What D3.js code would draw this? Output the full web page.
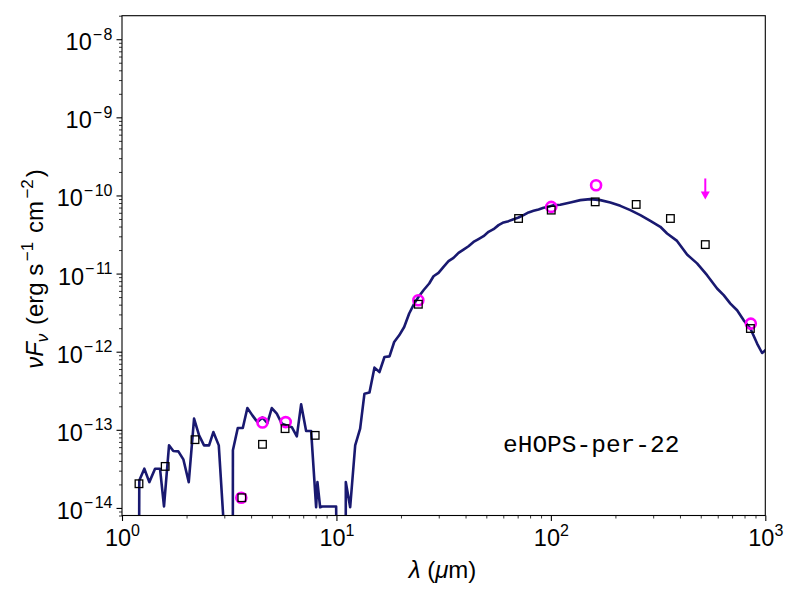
<!DOCTYPE html>
<html>
<head>
<meta charset="utf-8">
<script src="https://cdn.jsdelivr.net/npm/d3@7"></script>
<style>
  body { margin: 0; background: #fff; }
</style>
</head>
<body>
<div id="chart"></div>
<script>
// SED model: wavelength (micron) and nuFnu (erg s^-1 cm^-2)
const modelWave = [1.20, 1.204, 1.271, 1.341, 1.426, 1.504, 1.570, 1.657, 1.735, 1.831, 1.932, 2.048,
  2.168, 2.288, 2.413, 2.547, 2.667, 2.827, 3.107, 3.286, 3.29, 3.467, 3.659, 3.843, 4.056, 4.279,
  4.516, 4.764, 4.995, 5.271, 5.563, 5.869, 6.193, 6.536, 6.844, 7.222, 7.621, 8.04, 8.155, 8.394,
  8.577, 9.968, 10.05, 11.04, 11.06, 11.59, 12.23, 12.90, 13.51, 14.26, 15.04, 15.87, 16.75, 17.68,
  18.59, 19.62, 20.70, 21.84, 23.05, 24.13, 25.47, 27.08, 28.36, 29.92, 31.58, 33.32, 35.16, 37.10,
  39.14, 41.30, 43.58, 45.98, 48.53, 51.21, 54.03, 57.02, 60.16, 63.48, 66.99, 70.68, 74.58, 78.70,
  83.05, 87.62, 92.47, 97.57, 102.9, 110.6, 123.2, 137.2, 152.7, 170.1, 189.3, 210.8, 234.7, 261.4,
  291.0, 323.9, 348.3, 387.6, 431.6, 480.6, 535.1, 595.8, 639.6, 687.4, 738.6, 793.0, 852.0, 915.8,
  966.2, 1000, 1050];
const modelFlux = [1e-15, 2.25e-14, 3.18e-14, 2.14e-14, 3.18e-14, 3.18e-14, 1.045e-14, 6.32e-14,
  5.35e-14, 5.30e-14, 4.19e-14, 2.14e-14, 1.39e-13, 8.49e-14, 6.32e-14, 6.32e-14, 9.35e-14, 6.32e-14,
  1e-15, 1e-15, 5.46e-14, 1.054e-13, 1.054e-13, 1.90e-13, 1.53e-13, 1.256e-13, 1.44e-13, 1.22e-13,
  1.90e-13, 1.61e-13, 1.20e-13, 1.14e-13, 1.08e-13, 8.24e-14, 2.12e-13, 9.64e-14, 9.64e-14, 1.02e-14,
  2.14e-14, 1.02e-14, 1.045e-14, 1.045e-14, 1e-15, 1e-15, 2.14e-14, 1.02e-14, 6.3e-14, 1.035e-13,
  2.9e-13, 3.0e-13, 6.25e-13, 5.49e-13, 8.55e-13, 8.7e-13, 1.33e-12, 1.62e-12, 2.07e-12, 3.08e-12,
  4.13e-12, 5.02e-12, 6.12e-12, 7.46e-12, 9.25e-12, 1.02e-11, 1.22e-11, 1.44e-11, 1.59e-11, 1.84e-11,
  2.03e-11, 2.24e-11, 2.54e-11, 2.76e-11, 3.01e-11, 3.42e-11, 3.70e-11, 4.17e-11, 4.51e-11, 4.69e-11,
  4.97e-11, 5.22e-11, 5.59e-11, 6.06e-11, 6.35e-11, 6.62e-11, 6.94e-11, 7.15e-11, 7.52e-11, 7.6e-11,
  8.13e-11, 8.71e-11, 8.97e-11, 8.71e-11, 8.13e-11, 7.36e-11, 6.49e-11, 5.60e-11, 4.73e-11, 3.97e-11,
  3.26e-11, 2.62e-11, 1.75e-11, 1.35e-11, 9.53e-12, 6.44e-12, 5.29e-12, 4.13e-12, 3.39e-12, 2.52e-12,
  1.98e-12, 1.27e-12, 9.62e-13, 1.04e-12, 1.2e-12];

// model photometry (open squares)
const photWave = [1.2, 1.59, 2.19, 3.62, 4.52, 5.76, 7.96, 24.1, 70.7, 100.4, 161, 250, 361, 525, 852];
const photFlux = [2.04e-14, 3.40e-14, 7.48e-14, 1.35e-14, 6.52e-14, 1.035e-13, 8.49e-14, 4.05e-12,
  5.07e-11, 6.49e-11, 8.28e-11, 7.67e-11, 5.07e-11, 2.35e-11, 1.98e-12];

// observed fluxes (magenta circles)
const obsWave = [3.6, 4.52, 5.8, 24.1, 100.4, 162.5, 856];
const obsFlux = [1.35e-14, 1.24e-13, 1.256e-13, 4.56e-12, 7.14e-11, 1.35e-10, 2.29e-12];

// upper limit
const ulWave = [525];
const ulFlux = [1.65e-10];

const xTicks = [1, 10, 100, 1000];
const xExp = ["0", "1", "2", "3"];
const yTicks = [1e-14, 1e-13, 1e-12, 1e-11, 1e-10, 1e-9, 1e-8];
const yExp = ["14", "13", "12", "11", "10", "9", "8"];

const sourceName = "eHOPS-per-22";

const width = 800, height = 600,
      margin = {top: 15.7, right: 34.7, bottom: 84.5, left: 122};
const font = "Liberation Sans, Arial, Helvetica, sans-serif";

const svg = d3.select("#chart")
    .append("svg")
    .attr("width", width)
    .attr("height", height);

const x = d3.scaleLog()
    .domain([1, 1000])
    .range([margin.left, width - margin.right]);

const y = d3.scaleLog()
    .domain([8e-15, 2e-8])
    .range([height - margin.bottom, margin.top]);

// minor ticks 2..9 per decade inside the domain
function minorTicks(scale) {
    const [a, b] = scale.domain();
    const out = [];
    for (let k = Math.floor(Math.log10(a)); k <= Math.ceil(Math.log10(b)); k++) {
        for (let m = 2; m <= 9; m++) {
            const v = m * Math.pow(10, k);
            if (v >= a * 0.999 && v <= b * 1.001) out.push(v);
        }
    }
    return out;
}

svg.append("clipPath").attr("id", "plotclip")
  .append("rect")
    .attr("x", margin.left)
    .attr("y", margin.top)
    .attr("width", width - margin.left - margin.right)
    .attr("height", height - margin.top - margin.bottom);

// model curve
const model = modelWave.map((w, i) => [w, modelFlux[i]]);
const line = d3.line().x(d => x(d[0])).y(d => y(d[1]));

svg.append("path")
    .datum(model)
    .attr("clip-path", "url(#plotclip)")
    .attr("fill", "none")
    .attr("stroke", "#191970")
    .attr("stroke-width", 2.6)
    .attr("stroke-linejoin", "round")
    .attr("d", line);

// observed circles
svg.append("g")
  .selectAll("circle")
  .data(obsWave)
  .join("circle")
    .attr("cx", d => x(d))
    .attr("cy", (d, i) => y(obsFlux[i]))
    .attr("r", 5)
    .attr("fill", "none")
    .attr("stroke", "#ff00ff")
    .attr("stroke-width", 2.6);

// model photometry squares
const sq = 7.6;
svg.append("g")
  .selectAll("rect")
  .data(photWave)
  .join("rect")
    .attr("x", d => x(d) - sq / 2)
    .attr("y", (d, i) => y(photFlux[i]) - sq / 2)
    .attr("width", sq)
    .attr("height", sq)
    .attr("fill", "none")
    .attr("stroke", "#000")
    .attr("stroke-width", 1.3);

// upper limit arrow
const ul = svg.append("g").selectAll("g").data(ulWave).join("g");
ul.append("line")
    .attr("x1", d => x(d)).attr("x2", d => x(d))
    .attr("y1", (d, i) => y(ulFlux[i]))
    .attr("y2", (d, i) => y(ulFlux[i]) + 14)
    .attr("stroke", "#ff00ff")
    .attr("stroke-width", 2);
ul.append("path")
    .attr("fill", "#ff00ff")
    .attr("d", (d, i) => {
        const cx = x(d), top = y(ulFlux[i]) + 13;
        return `M${cx - 4.5},${top}L${cx + 4.5},${top}L${cx},${top + 8}Z`;
    });

// axes
const xAxisG = svg.append("g")
    .attr("transform", `translate(0,${height - margin.bottom})`);
xAxisG.append("g")
    .call(d3.axisBottom(x).tickValues(minorTicks(x)).tickSize(3).tickSizeOuter(0).tickFormat(""))
    .call(g => g.select(".domain").remove())
    .call(g => g.selectAll("line").attr("stroke-width", 0.8));
xAxisG.append("g")
    .call(d3.axisBottom(x).tickValues(xTicks).tickSize(5.5).tickSizeOuter(0).tickFormat(""))
    .call(g => g.select(".domain").remove())
    .call(g => g.selectAll("line").attr("stroke-width", 1.1))
    .call(g => g.selectAll(".tick text").each(function(d, i) {
        const t = d3.select(this)
            .attr("y", 30.5).attr("dy", null)
            .attr("font-family", font).attr("font-size", 23.5).attr("fill", "#000");
        t.append("tspan").text("10");
        t.append("tspan").attr("dy", -10.5).attr("font-size", 16).text(xExp[i]);
    }));

const yAxisG = svg.append("g")
    .attr("transform", `translate(${margin.left},0)`);
yAxisG.append("g")
    .call(d3.axisLeft(y).tickValues(minorTicks(y)).tickSize(3).tickSizeOuter(0).tickFormat(""))
    .call(g => g.select(".domain").remove())
    .call(g => g.selectAll("line").attr("stroke-width", 0.8));
yAxisG.append("g")
    .call(d3.axisLeft(y).tickValues(yTicks).tickSize(5.5).tickSizeOuter(0).tickFormat(""))
    .call(g => g.select(".domain").remove())
    .call(g => g.selectAll("line").attr("stroke-width", 1.1))
    .call(g => g.selectAll(".tick text").each(function(d, i) {
        const t = d3.select(this)
            .attr("x", -9.5).attr("y", 10.5).attr("dy", null)
            .attr("font-family", font).attr("font-size", 23.5).attr("fill", "#000");
        t.append("tspan").text("10");
        t.append("tspan").attr("dy", -10.5).attr("dx", 1).attr("font-size", 16).text("\u2212");
        t.append("tspan").attr("dx", 1.5).attr("font-size", 16).text(yExp[i]);
    }));

// frame
svg.append("rect")
    .attr("x", margin.left)
    .attr("y", margin.top)
    .attr("width", width - margin.left - margin.right)
    .attr("height", height - margin.top - margin.bottom)
    .attr("fill", "none")
    .attr("stroke", "#000")
    .attr("stroke-width", 1.1);

// axis labels
const xl = svg.append("text")
    .attr("x", 442.5)
    .attr("y", 577.5)
    .attr("text-anchor", "middle")
    .attr("font-family", font)
    .attr("font-size", 24);
xl.append("tspan").attr("font-style", "italic").text("\u03bb");
xl.append("tspan").text(" (");
xl.append("tspan").attr("font-style", "italic").text("\u03bc");
xl.append("tspan").text("m)");

const yl = svg.append("text")
    .attr("transform", "translate(43,269) rotate(-90)")
    .attr("text-anchor", "middle")
    .attr("font-family", font)
    .attr("font-size", 24);
yl.append("tspan").attr("font-style", "italic").text("\u03bdF");
yl.append("tspan").attr("font-style", "italic").attr("font-size", 17).attr("dy", 5).text("\u03bd");
yl.append("tspan").attr("dy", -5).attr("dx", 2).text(" (erg s");
yl.append("tspan").attr("font-size", 17).attr("dy", -10).attr("dx", 2.5).text("\u22121");
yl.append("tspan").attr("dy", 10).attr("dx", 2).text(" cm");
yl.append("tspan").attr("font-size", 17).attr("dy", -10).attr("dx", 2.5).text("\u22122");
yl.append("tspan").attr("dy", 10).attr("dx", 2).text(")");

// source name
svg.append("text")
    .attr("x", 503)
    .attr("y", 451.7)
    .attr("font-family", "Liberation Mono, DejaVu Sans Mono, monospace")
    .attr("font-size", 24.5)
    .text(sourceName);
</script>
</body>
</html>
